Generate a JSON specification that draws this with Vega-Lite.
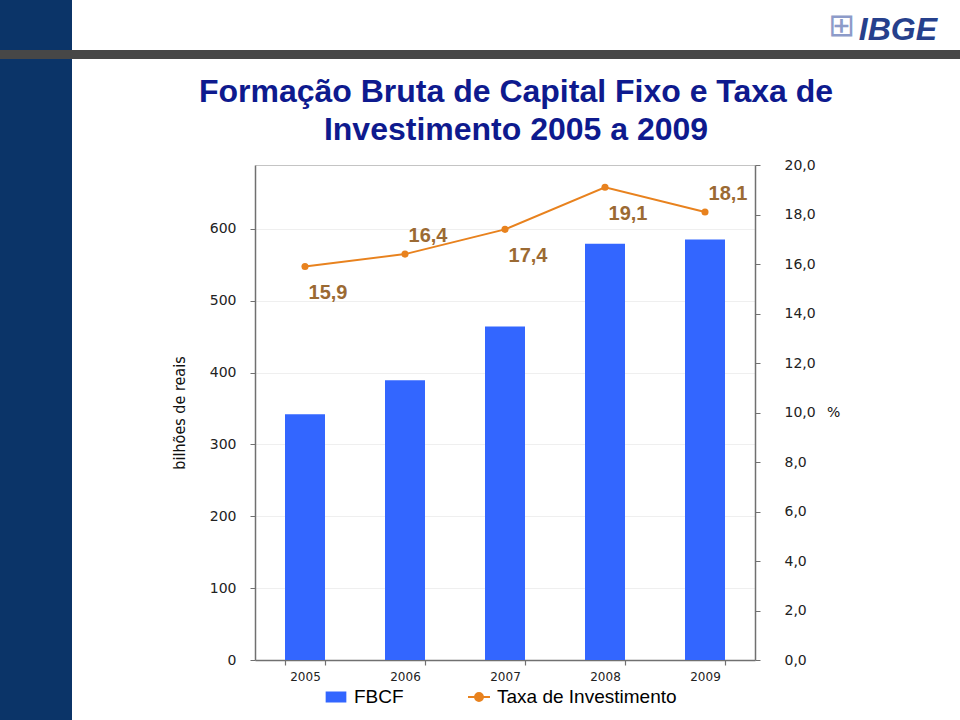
{
  "$schema": "https://vega.github.io/schema/vega-lite/v6.json",
  "padding": 0,
  "background": "white",
  "spacing": 0,
  "bounds": "flush",
  "config": {
    "view": {"stroke": null},
    "font": "Liberation Sans",
    "locale": {"number": {"decimal": ",", "thousands": ".", "grouping": [3], "currency": ["R$ ", ""]}}
  },
  "resolve": {"scale": {"color": "independent"}, "legend": {"color": "independent"}},
  "vconcat": [
    {
      "width": 960,
      "height": 50,
      "view": {
        "stroke": null,
        "fill": {"gradient": "linear", "x1": 0, "x2": 1, "y1": 0, "y2": 0,
          "stops": [{"offset": 0, "color": "#0B3468"}, {"offset": 0.075, "color": "#0B3468"}, {"offset": 0.075, "color": "#ffffff"}, {"offset": 1, "color": "#ffffff"}]}
      },
      "title": {"text": "IBGE", "anchor": "end", "orient": "top", "frame": "group", "offset": -47, "dx": -23, "fontSize": 32, "fontStyle": "italic", "fontWeight": "bold", "color": "#26408C", "font": "Liberation Sans"},
      "data": {"values": [{}]},
      "mark": {"type": "point", "opacity": 0}
    },
    {
      "width": 960,
      "height": 9,
      "view": {"stroke": null, "fill": "#474747"},
      "title": {"text": "⊞", "anchor": "end", "orient": "top", "frame": "group", "offset": 7, "dx": -105, "fontSize": 32, "fontWeight": "normal", "color": "#8D9BC9", "font": "DejaVu Sans"},
      "data": {"values": [{}]},
      "mark": {"type": "point", "opacity": 0}
    },
    {
      "width": 960,
      "height": 661,
      "view": {
        "stroke": null,
        "fill": {"gradient": "linear", "x1": 0, "x2": 1, "y1": 0, "y2": 0,
          "stops": [{"offset": 0, "color": "#0B3468"}, {"offset": 0.075, "color": "#0B3468"}, {"offset": 0.075, "color": "#ffffff"}, {"offset": 1, "color": "#ffffff"}]}
      },
      "title": {"text": ["Formação Bruta de Capital Fixo e Taxa de", "Investimento 2005 a 2009"], "anchor": "middle", "frame": "group", "orient": "top", "offset": -88, "dx": 36, "fontSize": 32, "fontWeight": "bold", "color": "#0E1A8E", "lineHeight": 38, "font": "Liberation Sans"},
      "data": {"values": [
        {"ano": "2005", "fbcf": 342.2, "taxa": 15.9},
        {"ano": "2006", "fbcf": 389.3, "taxa": 16.4},
        {"ano": "2007", "fbcf": 464.1, "taxa": 17.4},
        {"ano": "2008", "fbcf": 579.5, "taxa": 19.1},
        {"ano": "2009", "fbcf": 585.3, "taxa": 18.1}
      ]},
      "encoding": {
        "x": {
          "field": "ano", "type": "ordinal",
          "scale": {"range": [255, 755], "paddingInner": 0.6, "paddingOuter": 0.3},
          "axis": {"orient": "bottom", "offset": -60, "title": null, "labelAngle": 0, "tickBand": "extent", "grid": false,
            "domainColor": "#707070", "domainWidth": 1.5, "tickColor": "#707070", "tickWidth": 1.2, "tickSize": 5,
            "labelFont": "DejaVu Sans", "labelFontSize": 12, "labelColor": "#222222", "labelPadding": 6}
        }
      },
      "layer": [
        {
          "mark": {"type": "bar", "color": "#3366FF"},
          "encoding": {
            "y": {
              "field": "fbcf", "type": "quantitative",
              "scale": {"domain": [0, 689], "range": [601, 106], "nice": false},
              "axis": {"orient": "left", "offset": -255, "values": [0, 100, 200, 300, 400, 500, 600, 689],
                "labelExpr": "datum.value > 650 ? '' : datum.label",
                "title": "bilhões de reais", "titleFont": "Liberation Sans Narrow, DejaVu Sans Condensed, Liberation Sans", "titleFontSize": 16, "titleFontWeight": "normal", "titleColor": "#111111", "titlePadding": 22,
                "labelFont": "DejaVu Sans", "labelFontSize": 14, "labelColor": "#222222", "labelPadding": 14,
                "tickSize": 5, "domainColor": "#707070", "domainWidth": 1.5,
                "tickColor": {"condition": {"test": "datum.value > 650", "value": "transparent"}, "value": "#707070"},
                "grid": true,
                "gridColor": {"condition": {"test": "datum.value > 650", "value": "#c4c4c4"}, "value": "#efefef"}}
            },
            "color": {
              "datum": "FBCF", "type": "nominal",
              "scale": {"domain": ["FBCF", "Taxa de Investimento"], "range": ["#3366FF", "#E8821E"]},
              "legend": {
                "orient": "none", "legendX": 324, "legendY": 626, "direction": "horizontal", "title": null, "padding": 0,
                "labelFont": "Liberation Sans", "labelFontSize": 19, "labelColor": "#000000", "labelOffset": 6, "labelLimit": 400, "columnPadding": 60,
                "symbolSize": 484,
                "encode": {"symbols": {"update": {
                  "shape": {"signal": "datum.value === 'FBCF' ? 'M-0.85,-0.42H0.85V0.42H-0.85Z' : 'M-1,0H1M-0.36,0A0.36,0.36 0 1,1 0.36,0A0.36,0.36 0 1,1 -0.36,0Z'"},
                  "fill": {"signal": "datum.value === 'FBCF' ? '#3366FF' : '#E8821E'"},
                  "stroke": {"signal": "datum.value === 'FBCF' ? '#3366FF' : '#E8821E'"},
                  "strokeWidth": {"value": 2},
                  "size": {"value": 484},
                  "opacity": {"value": 1}
                }}}
              }
            }
          }
        },
        {
          "encoding": {
            "y": {
              "field": "taxa", "type": "quantitative",
              "scale": {"domain": [0, 20], "range": [601, 106], "nice": false},
              "axis": {"orient": "right", "offset": -205, "values": [0, 2, 4, 6, 8, 10, 12, 14, 16, 18, 20], "format": ".1f",
                "title": "%", "titleAngle": 0, "titleBaseline": "middle", "titleFont": "DejaVu Sans", "titleFontSize": 14, "titleFontWeight": "normal", "titleColor": "#111111", "titlePadding": 18,
                "labelFont": "DejaVu Sans", "labelFontSize": 14, "labelColor": "#222222", "labelPadding": 24,
                "tickSize": 5, "tickColor": "#707070", "domainColor": "#707070", "domainWidth": 1.5,
                "grid": false}
            }
          },
          "layer": [
            {"mark": {"type": "line", "strokeWidth": 2}, "encoding": {"color": {"datum": "Taxa de Investimento", "type": "nominal"}}},
            {"mark": {"type": "point", "filled": true, "opacity": 1, "size": 50}, "encoding": {"color": {"datum": "Taxa de Investimento", "type": "nominal"}}},
            {
              "transform": [{"filter": {"field": "ano", "oneOf": ["2006", "2009"]}}],
              "mark": {"type": "text", "dx": 23, "dy": -18, "fontSize": 20, "fontWeight": "bold", "color": "#9B6A33", "font": "Liberation Sans"},
              "encoding": {"text": {"field": "taxa", "type": "quantitative", "format": ".1f"}}
            },
            {
              "transform": [{"filter": {"field": "ano", "oneOf": ["2005", "2007", "2008"]}}],
              "mark": {"type": "text", "dx": 23, "dy": 27, "fontSize": 20, "fontWeight": "bold", "color": "#9B6A33", "font": "Liberation Sans"},
              "encoding": {"text": {"field": "taxa", "type": "quantitative", "format": ".1f"}}
            }
          ]
        }
      ],
      "resolve": {"scale": {"y": "independent"}}
    }
  ]
}
